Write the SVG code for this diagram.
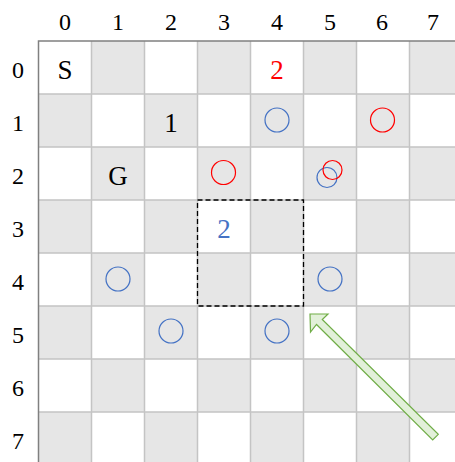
<svg xmlns="http://www.w3.org/2000/svg" width="455" height="462" viewBox="0 0 455 462">
<style>
.w{fill:#ffffff}
.g{fill:#e6e6e6}
.gl{stroke:#c4c4c4;stroke-width:1.5;fill:none}
.bd{stroke:#808080;stroke-width:1.5;fill:none}
.hd{font-family:"Liberation Serif","Times New Roman",serif;font-size:24px;fill:#000;text-anchor:middle}
.ct{font-family:"Liberation Serif","Times New Roman",serif;font-size:27px;text-anchor:middle}
.bc{fill:none;stroke:#4472c4;stroke-width:1.2}
.rc{fill:none;stroke:#ff0000;stroke-width:1.2}
</style>
<rect x="0" y="0" width="455" height="462" fill="#ffffff"/>
<g id="board">
<rect x="38.5" y="41" width="424" height="424" class="w"/>
<g class="g">
<rect x="91.5" y="41" width="53" height="53"/><rect x="197.5" y="41" width="53" height="53"/><rect x="303.5" y="41" width="53" height="53"/><rect x="409.5" y="41" width="53" height="53"/>
<rect x="38.5" y="94" width="53" height="53"/><rect x="144.5" y="94" width="53" height="53"/><rect x="250.5" y="94" width="53" height="53"/><rect x="356.5" y="94" width="53" height="53"/>
<rect x="91.5" y="147" width="53" height="53"/><rect x="197.5" y="147" width="53" height="53"/><rect x="303.5" y="147" width="53" height="53"/><rect x="409.5" y="147" width="53" height="53"/>
<rect x="38.5" y="200" width="53" height="53"/><rect x="144.5" y="200" width="53" height="53"/><rect x="250.5" y="200" width="53" height="53"/><rect x="356.5" y="200" width="53" height="53"/>
<rect x="91.5" y="253" width="53" height="53"/><rect x="197.5" y="253" width="53" height="53"/><rect x="303.5" y="253" width="53" height="53"/><rect x="409.5" y="253" width="53" height="53"/>
<rect x="38.5" y="306" width="53" height="53"/><rect x="144.5" y="306" width="53" height="53"/><rect x="250.5" y="306" width="53" height="53"/><rect x="356.5" y="306" width="53" height="53"/>
<rect x="91.5" y="359" width="53" height="53"/><rect x="197.5" y="359" width="53" height="53"/><rect x="303.5" y="359" width="53" height="53"/><rect x="409.5" y="359" width="53" height="53"/>
<rect x="38.5" y="412" width="53" height="53"/><rect x="144.5" y="412" width="53" height="53"/><rect x="250.5" y="412" width="53" height="53"/><rect x="356.5" y="412" width="53" height="53"/>
</g>
<path class="gl" d="M91.5 41V462M144.5 41V462M197.5 41V462M250.5 41V462M303.5 41V462M356.5 41V462M409.5 41V462M38.5 94H455M38.5 147H455M38.5 200H455M38.5 253H455M38.5 306H455M38.5 359H455M38.5 412H455"/>
<path class="bd" d="M38.5 462V41H455"/>
</g>
<g id="headers">
<text class="hd" x="65" y="30">0</text><text class="hd" x="118" y="30">1</text><text class="hd" x="171" y="30">2</text><text class="hd" x="224" y="30">3</text><text class="hd" x="277" y="30">4</text><text class="hd" x="330" y="30">5</text><text class="hd" x="382" y="30">6</text><text class="hd" x="433" y="30">7</text>
<text class="hd" x="18" y="78">0</text><text class="hd" x="18" y="131">1</text><text class="hd" x="18" y="184">2</text><text class="hd" x="18" y="237">3</text><text class="hd" x="18" y="290">4</text><text class="hd" x="18" y="343">5</text><text class="hd" x="18" y="396">6</text><text class="hd" x="18" y="449">7</text>
</g>
<g id="cell-labels">
<text id="start" class="ct" x="65" y="79" fill="#000">S</text>
<text id="goal" class="ct" x="118" y="185" fill="#000">G</text>
<text id="one" class="ct" x="171" y="132" fill="#000">1</text>
<text id="red-two" class="ct" x="277" y="79" fill="#ff0000">2</text>
<text id="blue-two" class="ct" x="224" y="238" fill="#4472c4">2</text>
</g>
<g id="circles">
<circle class="bc" cx="277" cy="120" r="12"/>
<circle class="rc" cx="382.5" cy="120" r="12"/>
<circle class="rc" cx="223.5" cy="172.5" r="12"/>
<circle class="bc" cx="327" cy="177.5" r="10"/>
<circle class="rc" cx="332.5" cy="170" r="9.5"/>
<circle class="bc" cx="118" cy="279" r="12"/>
<circle class="bc" cx="330" cy="279" r="12"/>
<circle class="bc" cx="171" cy="331" r="12"/>
<circle class="bc" cx="277" cy="331" r="12"/>
</g>
<g id="region">
<rect x="197.5" y="200" width="106" height="106" fill="none" stroke="#000" stroke-width="1.3" stroke-dasharray="5,3"/>
</g>
<g id="connectors">
<path d="M310 314L328 314L322.3 319.5L438.3 434.3L432.7 440L316.5 324.5L310.5 332Z" fill="#e2f0d9" stroke="#70ad47" stroke-width="1.2" stroke-linejoin="miter"/>
</g>
</svg>
